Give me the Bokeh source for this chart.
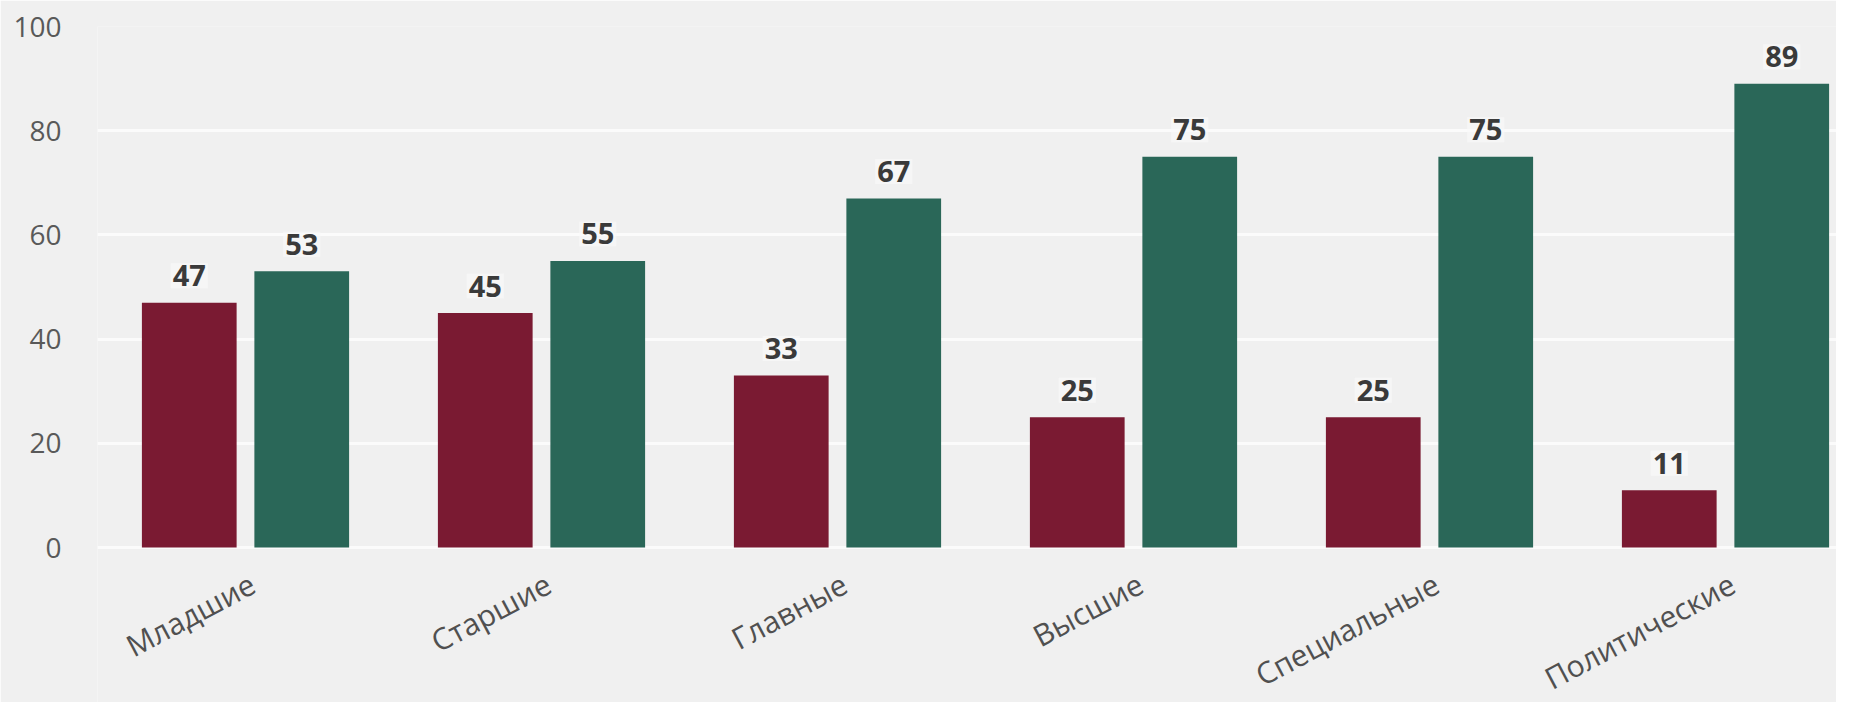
from bokeh.plotting import figure
from bokeh.models import ColumnDataSource, Range1d, FixedTicker
from bokeh.transform import dodge
from bokeh.core.properties import value
from bokeh.embed import file_html
from bokeh.resources import INLINE
import math

categories = ["Младшие", "Старшие", "Главные", "Высшие", "Специальные", "Политические"]
red_values = [47, 45, 33, 25, 25, 11]
green_values = [53, 55, 67, 75, 75, 89]
y_ticks = [0, 20, 40, 60, 80, 100]

idx = list(range(len(categories)))
src = ColumnDataSource(dict(
    x=idx,
    cat=categories,
    zero=[0] * len(categories),
    red=red_values,
    green=green_values,
    red_lbl=[str(v) for v in red_values],
    green_lbl=[str(v) for v in green_values],
))

BG = "#f0f0f0"
RED = "#7a1a32"
GREEN = "#2a6758"

# the frame extends below zero so that the rotated category labels fit inside it
p = figure(width=1836, height=702, output_backend="svg", toolbar_location=None,
           x_range=Range1d(-0.5, 5.375), y_range=Range1d(-29.75, 100),
           min_border_left=97, min_border_top=26, min_border_bottom=0, min_border_right=0)
p.background_fill_color = BG
p.border_fill_color = BG
p.outline_line_color = None

p.vbar(x=dodge("x", -0.19, range=p.x_range), top="red", width=0.32, bottom=0,
       source=src, fill_color=RED, line_color=None)
p.vbar(x=dodge("x", 0.19, range=p.x_range), top="green", width=0.32, bottom=0,
       source=src, fill_color=GREEN, line_color=None)

for col, off in (("red", -0.19), ("green", 0.19)):
    p.text(x=dodge("x", off, range=p.x_range), y=col, text=col + "_lbl", source=src,
           text_align="center", text_baseline="alphabetic", y_offset=-27,
           text_font=value("Open Sans"), text_font_style="bold",
           text_font_size="29px", text_color="#3a3a3a",
           background_fill_color="#fafafa", background_fill_alpha=0.6,
           padding=2)

# rotated category labels under the bars
p.text(x="x", y="zero", text="cat", source=src,
       x_offset=7, y_offset=34, angle=math.radians(28),
       text_align="right", text_baseline="alphabetic",
       text_font=value("Open Sans"), text_font_size="30px",
       text_color="#505050")

p.xaxis.visible = False

p.yaxis.ticker = FixedTicker(ticks=y_ticks)
p.yaxis.major_label_text_font = "Open Sans"
p.yaxis.major_label_text_font_size = "28px"
p.yaxis.major_label_text_color = "#595959"
p.yaxis.major_label_standoff = 30
p.yaxis.axis_line_color = None
p.yaxis.major_tick_line_color = None
p.yaxis.minor_tick_line_color = None

p.xgrid.grid_line_color = None
p.ygrid.grid_line_color = "#fbfbfb"
p.ygrid.grid_line_width = 3

open("out.html", "w").write(file_html(p, INLINE))
